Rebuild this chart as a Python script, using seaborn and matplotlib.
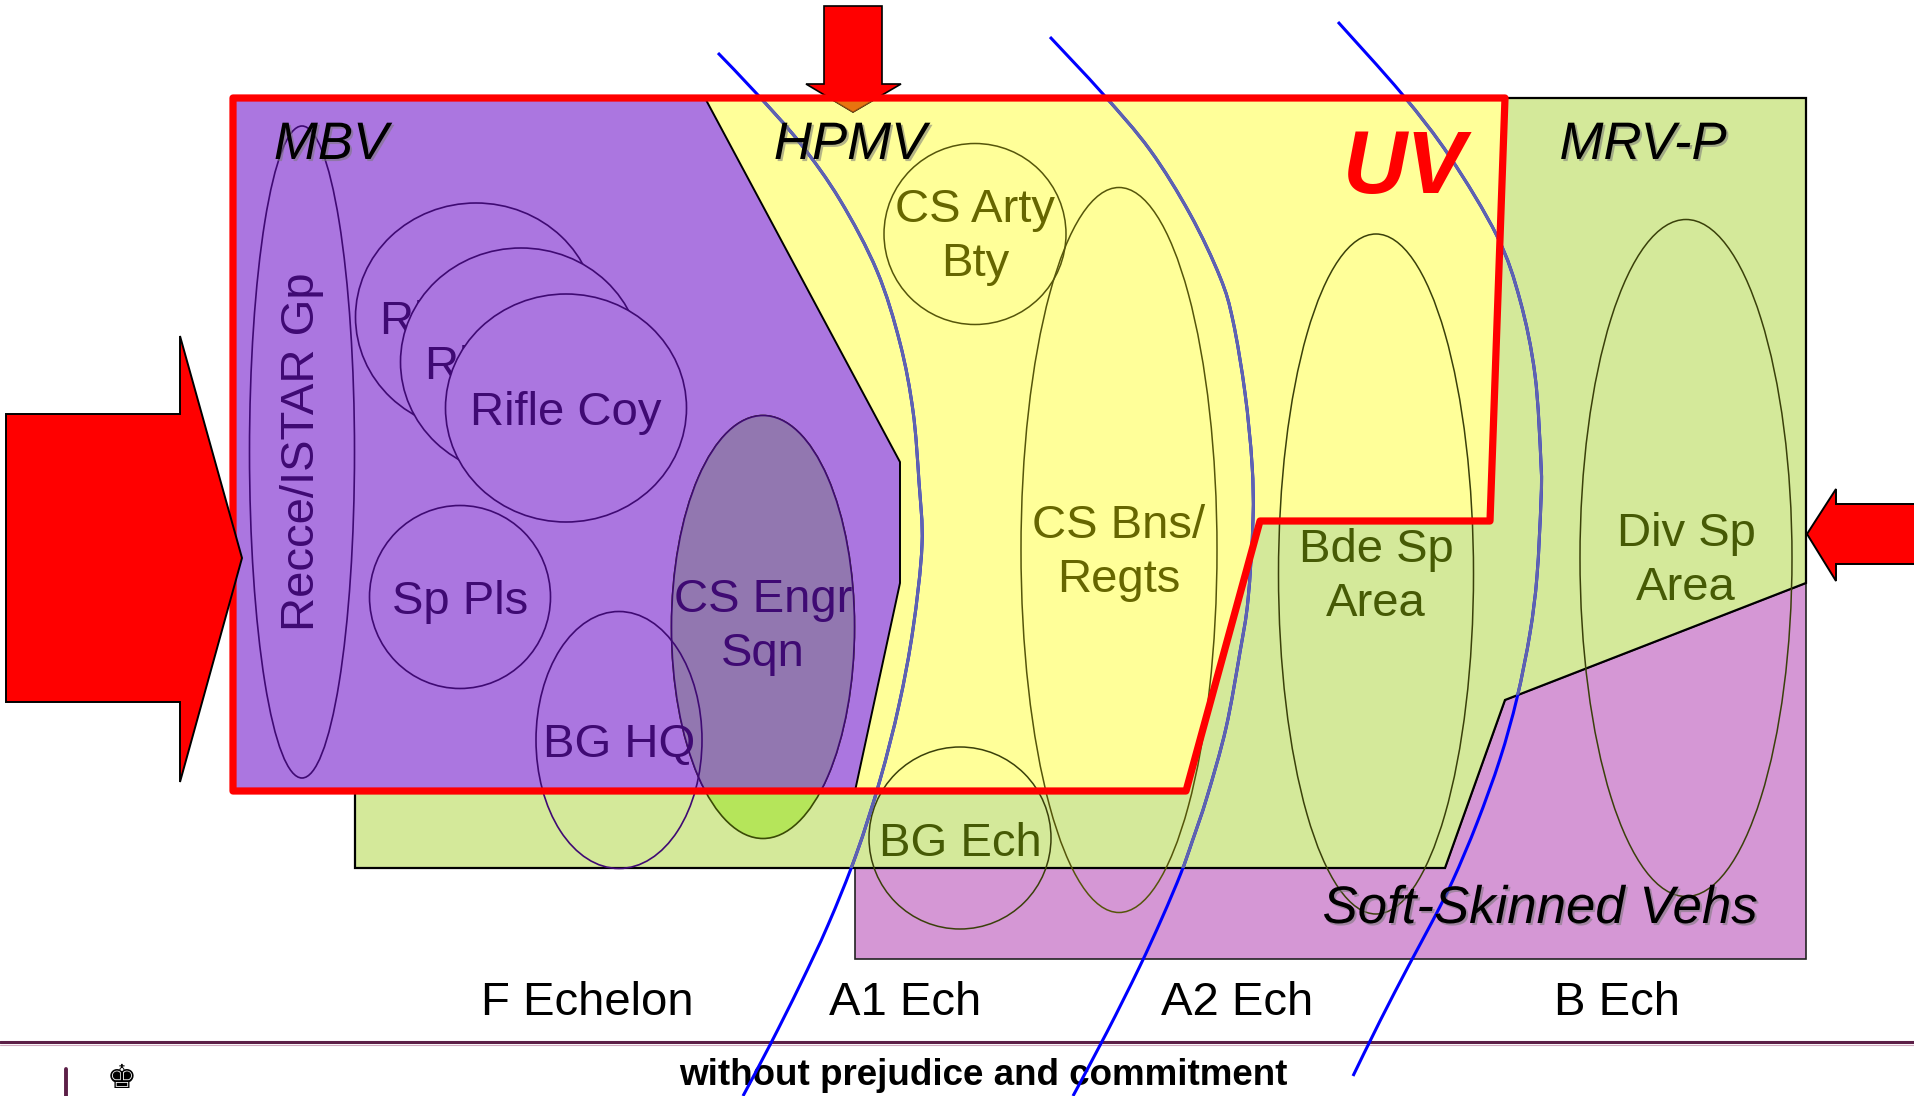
import matplotlib
matplotlib.use("Agg")
import numpy as np
import pandas as pd
import matplotlib.pyplot as plt
import matplotlib.patheffects as pe
from matplotlib.patches import Polygon, Ellipse, PathPatch
from matplotlib.path import Path
import seaborn as sns

# --- zones (pixel coordinates, y pointing down) ---
uv_outline = [(233, 98), (1505, 98), (1490, 521), (1260, 521), (1186, 791), (233, 791)]
mbv_zone = [(233, 98), (705, 98), (900, 462), (900, 583), (855, 791), (233, 791)]
hpmv_zone = [(705, 98), (1505, 98), (1490, 521), (1260, 521), (1186, 791),
             (855, 791), (900, 583), (900, 462)]
mrvp_zone = [(355, 98), (1806, 98), (1806, 583), (1505, 700), (1445, 868), (355, 868)]
soft_zone = [(855, 868), (1445, 868), (1505, 700), (1806, 583), (1806, 959), (855, 959)]

# --- units drawn as ellipses ---
mbv_units = ["Recce/ISTAR Gp", "Sp Pls", "BG HQ"]
mbv_xy = [(302, 452), (460, 597), (619, 740)]
mbv_wh = [(105, 652), (181, 183), (166, 257)]
rifle_xy = [(476, 317), (521, 362), (566, 408)]
rifle_wh = (241, 228)
engr_xy, engr_wh = (763, 627), (183, 423)
hpmv_units = ["CS Arty\nBty", "CS Bns/\nRegts"]
hpmv_xy = [(975, 234), (1119, 550)]
hpmv_wh = [(182, 181), (196, 725)]
mrvp_units = ["Bde Sp\nArea", "Div Sp\nArea", "BG Ech"]
mrvp_xy = [(1376, 574), (1686, 558), (960, 838)]
mrvp_wh = [(195, 680), (212, 677), (182, 182)]

zone_labels = ["MBV", "HPMV", "MRV-P", "Soft-Skinned Vehs"]
zone_label_xy = [(331, 159), (850, 159), (1643, 159), (1540, 923)]
echelons = ["F Echelon", "A1 Ech", "A2 Ech", "B Ech"]
echelon_x = [587, 905, 1237, 1617]

# --- echelon boundary curves ---
line1_x = [718, 757, 800, 840, 877, 900, 913, 919, 922, 913, 899, 880, 856, 828, 800, 771, 743]
line1_y = [53, 94, 143, 200, 271, 343, 411, 482, 545, 629, 705, 780, 855, 925, 985, 1043, 1096]
line2_x = [1050, 1103, 1150, 1190, 1220, 1233, 1245, 1252, 1253, 1248, 1240, 1226, 1207,
           1192, 1181, 1162, 1139, 1107, 1073]
line2_y = [37, 94, 150, 214, 277, 321, 393, 464, 520, 600, 652, 728, 797,
           842, 873, 918, 968, 1032, 1096]
line3_x = [1338, 1402, 1450, 1497, 1520, 1535, 1541, 1541, 1537, 1530, 1517, 1500, 1477,
           1453, 1432, 1409, 1380, 1353]
line3_y = [22, 94, 157, 236, 300, 375, 464, 500, 576, 633, 698, 759, 823,
           880, 922, 965, 1021, 1076]

# --- arrows ---
left_arrow = [(6, 414), (180, 414), (180, 336), (242, 558), (180, 782), (180, 702), (6, 702)]
top_arrow = [(824, 6), (882, 6), (882, 84), (901, 84), (853, 112), (806, 84), (824, 84)]
right_arrow = [(1915, 504), (1836, 504), (1836, 489), (1807, 534), (1836, 581), (1836, 564), (1915, 564)]

PURPLE = "#AB76E0"
YELLOW = "#FFFF99"
GREEN = "#D4E99A"
PINK = "#D597D5"
DKPURPLE = "#3F0A73"
OLIVE = "#666600"
DKOLIVE = "#465A05"


def smooth_path(xs, ys):
    """Bezier path passing through the read points (Catmull-Rom handles)."""
    p = np.column_stack([xs, ys]).astype(float)
    pts = [p[0]]
    codes = [Path.MOVETO]
    for i in range(len(p) - 1):
        p0 = p[i - 1] if i > 0 else p[i]
        p3 = p[i + 2] if i + 2 < len(p) else p[i + 1]
        c1 = p[i] + (p[i + 1] - p0) / 6
        c2 = p[i + 1] - (p3 - p[i]) / 6
        pts += [c1, c2, p[i + 1]]
        codes += [Path.CURVE4] * 3
    return Path(pts, codes)


sns.set_theme(style="white")
plt.rcParams["font.family"] = ["Liberation Sans", "DejaVu Sans"]

fig = plt.figure(figsize=(19.15, 10.96), dpi=100)
ax = fig.add_axes([0, 0, 1, 1])

soft = Polygon(soft_zone, closed=True, fc=PINK, ec="#222222", lw=1.2, zorder=1)
green = Polygon(mrvp_zone, closed=True, fc=GREEN, ec="black", lw=1.6, zorder=2)
yellow = Polygon(hpmv_zone, closed=True, fc=YELLOW, ec="none", zorder=3)
purple = Polygon(mbv_zone, closed=True, fc=PURPLE, ec="none", zorder=4)
for p in (soft, green, yellow, purple):
    ax.add_patch(p)
bx, by = zip(*mbv_zone[1:5])
sns.lineplot(x=list(bx), y=list(by), sort=False, estimator=None, color="black", lw=1.4,
             ax=ax, zorder=4.5)

txt = dict(ha="center", fontsize=34, linespacing=1.3)

# MBV units
for (cx, cy), (w, h) in zip(mbv_xy, mbv_wh):
    ax.add_patch(Ellipse((cx, cy), w, h, fill=False, ec=DKPURPLE, lw=1.2, zorder=6))
ax.text(mbv_xy[0][0], mbv_xy[0][1], mbv_units[0], rotation=90, va="center",
        color=DKPURPLE, zorder=9, **txt)
for lab, (cx, cy) in zip(mbv_units[1:], mbv_xy[1:]):
    ax.text(cx, cy + 17, lab, va="baseline", color=DKPURPLE, zorder=9, **txt)

for i, (cx, cy) in enumerate(rifle_xy):
    ax.add_patch(Ellipse((cx, cy), rifle_wh[0], rifle_wh[1], fc=PURPLE, ec=DKPURPLE,
                         lw=1.2, zorder=6 + i * 0.1))
    ax.text(cx, cy + 17, "Rifle Coy", va="baseline", color=DKPURPLE,
            zorder=6.05 + i * 0.1, **txt)

# CS Engr Sqn: bright where it leaves the MBV zone
ax.add_patch(Ellipse(engr_xy, *engr_wh, fc="#B5E55A", ec="#3A4A05", lw=1.2, zorder=5))
engr = Ellipse(engr_xy, *engr_wh, fc="#9277B0", ec=DKPURPLE, lw=1.2, zorder=5.1)
ax.add_patch(engr)
engr.set_clip_path(purple)
ax.text(engr_xy[0], engr_xy[1], "CS Engr\nSqn", va="center", color=DKPURPLE, zorder=9, **txt)

for lab, (cx, cy), (w, h) in zip(hpmv_units, hpmv_xy, hpmv_wh):
    ax.add_patch(Ellipse((cx, cy), w, h, fill=False, ec="#55550A", lw=1.1, zorder=6))
    ax.text(cx, cy + 3, lab, va="center", color=OLIVE, zorder=9, **txt)
for lab, (cx, cy), (w, h) in zip(mrvp_units, mrvp_xy, mrvp_wh):
    ax.add_patch(Ellipse((cx, cy), w, h, fill=False, ec="#3A400A", lw=1.1, zorder=6))
    if "\n" in lab:
        ax.text(cx, cy + 3, lab, va="center", color=DKOLIVE, zorder=9, **txt)
    else:
        ax.text(cx, cy + 18, lab, va="baseline", color=DKOLIVE, zorder=9, **txt)

# echelon boundaries: bright blue outside, muted inside the zones
for xs, ys in ((line1_x, line1_y), (line2_x, line2_y), (line3_x, line3_y)):
    path = smooth_path(xs, ys)
    ax.add_patch(PathPatch(path, fill=False, ec="#0000FF", lw=2.2, zorder=7))
    muted = PathPatch(path, fill=False, ec="#5F63AE", lw=2.2, zorder=7.1)
    ax.add_patch(muted)
    muted.set_clip_path(green)

# UV outline
ax.add_patch(Polygon(uv_outline, closed=True, fill=False, ec="#FF0000", lw=5.2,
                     joinstyle="round", zorder=8))

# arrows
ax.add_patch(Polygon(top_arrow, closed=True, fc="#FF0000", ec="black", lw=1.2, zorder=7.5))
tip = Polygon(top_arrow, closed=True, fc="#E8730F", ec="#9A5010", lw=0.8, zorder=7.6)
ax.add_patch(tip)
tip.set_clip_path(yellow)
ax.add_patch(Polygon(left_arrow, closed=True, fc="#FF0000", ec="black", lw=1.4, zorder=8.5))
ax.add_patch(Polygon(right_arrow, closed=True, fc="#FF0000", ec="black", lw=1.4, zorder=8.5))

# zone labels
shadow = [pe.SimplePatchShadow(offset=(1.5, -1.5), shadow_rgbFace="#777777", alpha=0.55), pe.Normal()]
for lab, (x, y) in zip(zone_labels, zone_label_xy):
    ax.text(x, y, lab, ha="center", va="baseline", fontsize=38, style="italic",
            color="black", path_effects=shadow, zorder=10)
ax.text(1405, 193, "UV", ha="center", va="baseline", fontsize=64, style="italic",
        fontweight="bold", color="#FF0000", zorder=10)

for lab, x in zip(echelons, echelon_x):
    ax.text(x, 1015, lab, ha="center", va="baseline", fontsize=34, color="black", zorder=10)

# footer
ax.plot([0, 1915], [1042, 1042], color="#5C1F47", lw=2.2, zorder=3)
ax.plot([0, 1915], [1045, 1045], color="#D2AABF", lw=0.8, zorder=3)
ax.plot([66, 66], [1069, 1096], color="#5C1F47", lw=2.8, zorder=3)
ax.text(122, 1095, "\u265A", ha="center", va="bottom", fontsize=24,
        family="DejaVu Sans", color="black", zorder=3)
ax.text(983, 1085, "without prejudice and commitment", ha="center", va="baseline",
        fontsize=26.5, fontweight="bold", color="black", zorder=6)

ax.set_xlim(0, 1915)
ax.set_ylim(1096, 0)
ax.axis("off")
fig.savefig("out.png", dpi=100)
